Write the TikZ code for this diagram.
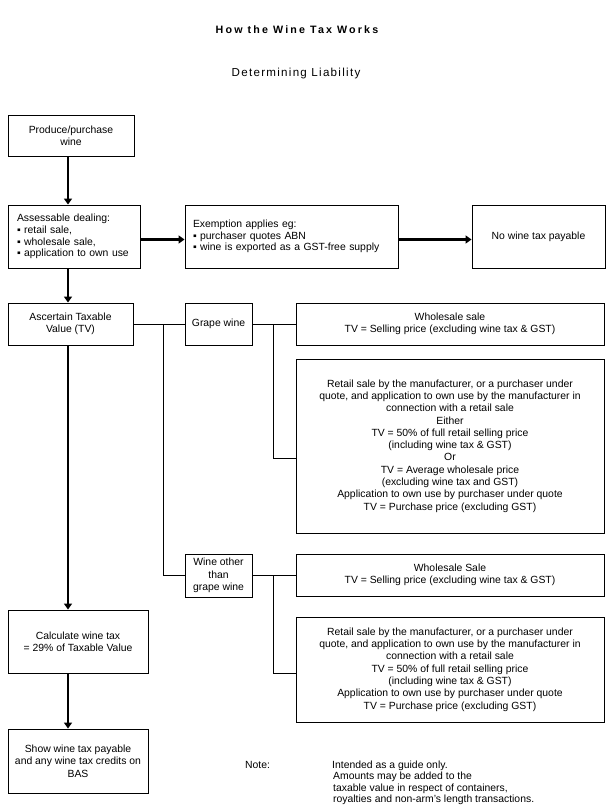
\documentclass[tikz,border=0pt]{standalone}
\usepackage{fontspec}
\setmainfont{Liberation Sans}
\newfontfamily\titlefont[LetterSpace=20]{Liberation Sans}
\newfontfamily\subfont[LetterSpace=11]{Liberation Sans}
\usetikzlibrary{arrows.meta,calc}
\begin{document}
\begin{tikzpicture}[x=1pt,y=-1pt,
  box/.style={draw, line width=0.9pt, inner sep=2pt, align=center,
    font=\fontsize{10.4}{12.3}\selectfont},
  lbox/.style={box, align=left},
  flow/.style={line width=2.6pt, -{Triangle[width=8pt,length=6pt]}},
  link/.style={line width=0.9pt},
  txt/.style={inner sep=0pt}]
\fill[white] (0,0) rectangle (610,808);
\useasboundingbox (0,0) rectangle (610,808);

\node[txt, anchor=base] (title) at (297,33.3) {\titlefont\fontsize{10.7}{12}\selectfont\bfseries How the Wine Tax Works};
\node[txt, anchor=base] (subtitle) at (296,76.7) {\subfont\fontsize{11.6}{13}\selectfont Determining Liability};

\coordinate (spine) at (68,0);
\coordinate (j1) at (163,0);
\coordinate (j2) at (273,0);

\node[box, minimum width=126pt, minimum height=41pt] (produce) at (71,135.5) {Produce/purchase\\wine};
\node[lbox, font=\fontsize{10.4}{11.7}\selectfont, text width=114pt, inner xsep=9pt, minimum height=63pt] (assess) at (74,236.5)
  {Assessable dealing:\\▪ retail sale,\\▪ wholesale sale,\\▪ application to own use};
\node[lbox, font=\fontsize{10.4}{11.2}\selectfont, text width=197pt, inner xsep=8pt, minimum height=63pt] (exempt) at (291.5,236.5)
  {Exemption applies eg:\\▪ purchaser quotes ABN\\▪ wine is exported as a GST-free supply};
\node[box, minimum width=133pt, minimum height=63pt] (notax) at (538.5,236.5) {No wine tax payable};

\node[box, minimum width=125pt, minimum height=42pt] (ascertain) at (70.5,324) {Ascertain Taxable\\Value (TV)};
\node[box, minimum width=67pt, minimum height=42pt] (grape) at (218.5,324) {Grape wine};
\node[box, minimum width=308pt, minimum height=42pt] (whole1) at (450,324)
  {Wholesale sale\\TV = Selling price (excluding wine tax \& GST)};
\node[box, minimum width=308pt, minimum height=174pt] (retail1) at (450,446)
  {Retail sale by the manufacturer, or a purchaser under\\
   quote, and application to own use by the manufacturer in\\
   connection with a retail sale\\
   Either\\
   TV = 50\% of full retail selling price\\
   (including wine tax \& GST)\\
   Or\\
   TV = Average wholesale price\\
   (excluding wine tax and GST)\\
   Application to own use by purchaser under quote\\
   TV = Purchase price (excluding GST)};

\node[box, minimum width=67pt, minimum height=43pt] (winother) at (218.5,575.5) {Wine other\\than\\grape wine};
\node[box, minimum width=308pt, minimum height=42pt] (whole2) at (450,575)
  {Wholesale Sale\\TV = Selling price (excluding wine tax \& GST)};
\node[box, minimum width=308pt, minimum height=105pt] (retail2) at (450,669.5)
  {Retail sale by the manufacturer, or a purchaser under\\
   quote, and application to own use by the manufacturer in\\
   connection with a retail sale\\
   TV = 50\% of full retail selling price\\
   (including wine tax \& GST)\\
   Application to own use by purchaser under quote\\
   TV = Purchase price (excluding GST)};

\node[box, minimum width=140pt, minimum height=63pt] (calc) at (78,641.5) {Calculate wine tax\\= 29\% of Taxable Value};
\node[box, minimum width=140pt, minimum height=64pt] (show) at (78,761) {Show wine tax payable\\and any wine tax credits on\\BAS};

\node[txt, anchor=base west, font=\fontsize{10.4}{12.3}\selectfont] (note) at (245,768) {Note:};
\node[txt, anchor=north west, align=left, font=\fontsize{10.4}{11.5}\selectfont] (notetext) at (332,760.5)
  {Intended as a guide only.\\
   \hspace{1pt}Amounts may be added to the\\
   \hspace{1pt}taxable value in respect of containers,\\
   \hspace{1pt}royalties and non-arm's length transactions.};

% flow arrows
\draw[flow] (produce.south -| spine) -- (assess.north -| spine);
\draw[flow] (assess.south -| spine) -- (ascertain.north -| spine);
\draw[flow] (ascertain.south -| spine) -- (calc.north -| spine);
\draw[flow] (calc.south -| spine) -- (show.north -| spine);
\draw[flow] ([yshift=-3pt]assess.east) -- ([yshift=-3pt]assess.east -| exempt.west);
\draw[flow] ([yshift=-3pt]exempt.east) -- ([yshift=-3pt]exempt.east -| notax.west);

% links
\draw[link] (ascertain.east) -- (grape.west);
\draw[link] (j1 |- ascertain.east) |- (winother.west);
\draw[link] (grape.east) -- (whole1.west);
\draw[link] (j2 |- grape.east) |- ([yshift=-12pt]retail1.west);
\draw[link] (winother.east) -- (winother.east -| whole2.west);
\draw[link] (j2 |- winother.east) |- ([yshift=-3.5pt]retail2.west);
\end{tikzpicture}
\end{document}
